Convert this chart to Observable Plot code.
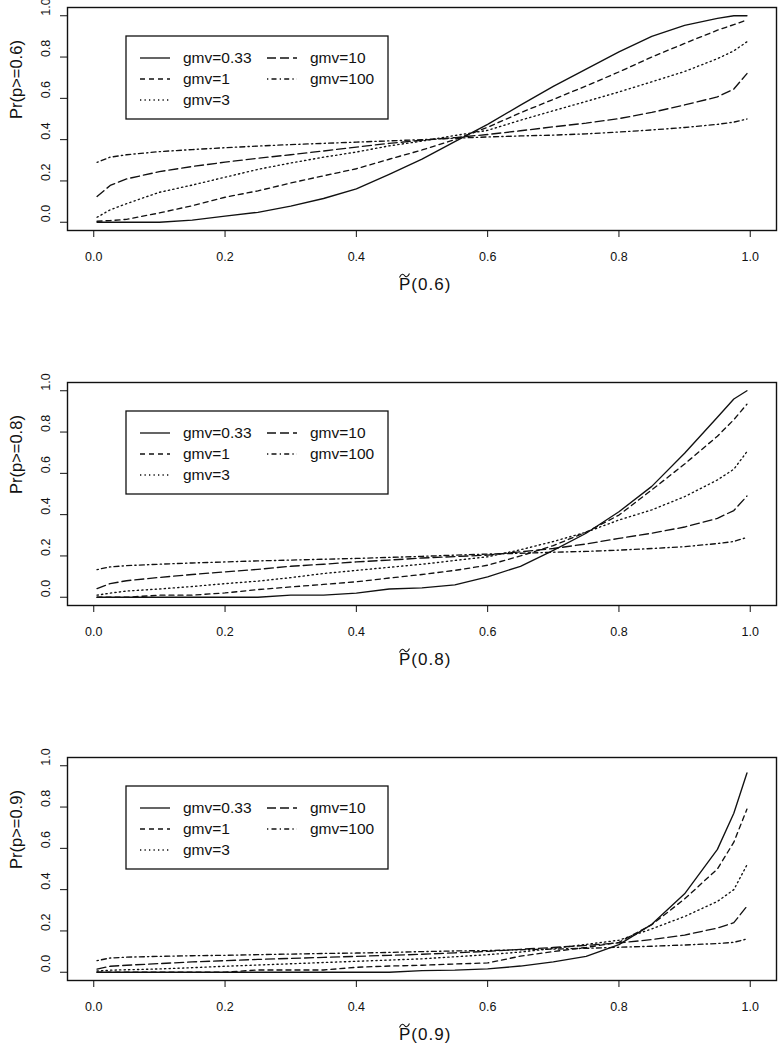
<!DOCTYPE html>
<html>
<head>
<meta charset="utf-8">
<script src="https://cdn.jsdelivr.net/npm/d3@7"></script>
<script src="https://cdn.jsdelivr.net/npm/@observablehq/plot@0.6"></script>
<style>
  body { margin: 0; background: #fff; }
  #chart svg { display: block; }
</style>
</head>
<body>
<div id="chart"></div>
<script>
// ---- data ----
const xGrid = [0.005, 0.025, 0.05, 0.1, 0.15, 0.2, 0.25, 0.3, 0.35, 0.4, 0.45, 0.5, 0.55, 0.6, 0.65, 0.7, 0.75, 0.8, 0.85, 0.9, 0.95, 0.975, 0.995];
const seriesNames = ["gmv=0.33", "gmv=1", "gmv=3", "gmv=10", "gmv=100"];
const thresholds = ["0.6", "0.8", "0.9"];
const xTicks = [0, 0.2, 0.4, 0.6, 0.8, 1.0];
const yTicks = [0, 0.2, 0.4, 0.6, 0.8, 1.0];
const tickLabels = ["0.0", "0.2", "0.4", "0.6", "0.8", "1.0"];

// threshold 0.6
const t06_gmv033 = [0, 0, 0, 0, 0.01, 0.03, 0.048, 0.078, 0.115, 0.162, 0.232, 0.306, 0.39, 0.474, 0.567, 0.658, 0.742, 0.825, 0.9, 0.953, 0.987, 1.0, 1.0];
const t06_gmv1   = [0.005, 0.008, 0.014, 0.045, 0.08, 0.121, 0.152, 0.19, 0.225, 0.259, 0.305, 0.35, 0.40, 0.46, 0.53, 0.595, 0.66, 0.728, 0.80, 0.866, 0.93, 0.957, 0.98];
const t06_gmv3   = [0.024, 0.06, 0.09, 0.145, 0.18, 0.218, 0.256, 0.287, 0.315, 0.34, 0.37, 0.393, 0.42, 0.445, 0.494, 0.54, 0.585, 0.631, 0.68, 0.73, 0.792, 0.83, 0.874];
const t06_gmv10  = [0.125, 0.178, 0.21, 0.245, 0.27, 0.291, 0.31, 0.327, 0.345, 0.364, 0.382, 0.397, 0.41, 0.425, 0.443, 0.462, 0.48, 0.502, 0.532, 0.568, 0.607, 0.645, 0.72];
const t06_gmv100 = [0.29, 0.315, 0.327, 0.342, 0.352, 0.361, 0.369, 0.376, 0.382, 0.388, 0.394, 0.40, 0.407, 0.413, 0.418, 0.422, 0.428, 0.437, 0.447, 0.459, 0.474, 0.485, 0.50];

// threshold 0.8
const t08_gmv033 = [0, 0, 0, 0, 0, 0, 0, 0.01, 0.01, 0.02, 0.04, 0.045, 0.06, 0.099, 0.15, 0.227, 0.31, 0.414, 0.537, 0.697, 0.872, 0.96, 1.0];
const t08_gmv1   = [0, 0, 0, 0.01, 0.01, 0.021, 0.037, 0.05, 0.062, 0.075, 0.093, 0.11, 0.13, 0.155, 0.2, 0.25, 0.315, 0.398, 0.52, 0.645, 0.78, 0.86, 0.935];
const t08_gmv3   = [0.01, 0.02, 0.03, 0.04, 0.052, 0.066, 0.078, 0.095, 0.115, 0.13, 0.145, 0.16, 0.178, 0.196, 0.23, 0.27, 0.315, 0.374, 0.423, 0.487, 0.568, 0.62, 0.705];
const t08_gmv10  = [0.042, 0.066, 0.08, 0.096, 0.11, 0.123, 0.135, 0.15, 0.16, 0.171, 0.18, 0.19, 0.197, 0.204, 0.22, 0.236, 0.258, 0.285, 0.31, 0.34, 0.382, 0.42, 0.49];
const t08_gmv100 = [0.134, 0.147, 0.153, 0.16, 0.166, 0.171, 0.176, 0.18, 0.184, 0.188, 0.193, 0.198, 0.204, 0.209, 0.213, 0.218, 0.222, 0.228, 0.236, 0.245, 0.26, 0.27, 0.29];

// threshold 0.9
const t09_gmv033 = [0, 0, 0, 0, 0, 0, 0, 0, 0, 0, 0, 0.008, 0.01, 0.016, 0.03, 0.05, 0.077, 0.134, 0.232, 0.38, 0.595, 0.77, 0.965];
const t09_gmv1   = [0, 0, 0, 0, 0, 0, 0.011, 0.011, 0.011, 0.024, 0.03, 0.034, 0.04, 0.045, 0.078, 0.10, 0.12, 0.145, 0.23, 0.355, 0.50, 0.63, 0.79];
const t09_gmv3   = [0.006, 0.01, 0.012, 0.016, 0.022, 0.029, 0.035, 0.041, 0.047, 0.053, 0.059, 0.065, 0.075, 0.085, 0.098, 0.115, 0.135, 0.155, 0.21, 0.27, 0.343, 0.40, 0.52];
const t09_gmv10  = [0.015, 0.029, 0.034, 0.042, 0.05, 0.056, 0.062, 0.067, 0.072, 0.077, 0.082, 0.087, 0.094, 0.101, 0.111, 0.12, 0.13, 0.142, 0.158, 0.18, 0.214, 0.24, 0.32];
const t09_gmv100 = [0.056, 0.069, 0.073, 0.077, 0.08, 0.082, 0.085, 0.088, 0.091, 0.093, 0.096, 0.10, 0.103, 0.105, 0.109, 0.112, 0.116, 0.121, 0.126, 0.132, 0.139, 0.145, 0.161];

const panelSeries = [
  [t06_gmv033, t06_gmv1, t06_gmv3, t06_gmv10, t06_gmv100],
  [t08_gmv033, t08_gmv1, t08_gmv3, t08_gmv10, t08_gmv100],
  [t09_gmv033, t09_gmv1, t09_gmv3, t09_gmv10, t09_gmv100]
];

// ---- styles ----
const dashStyles = [null, "5,4", "1.3,3.2", "9,4", "1.3,3.2,5,3.2"];
const ink = "#111";
const fontFamily = "'Liberation Sans', Arial, Helvetica, sans-serif";

function legendMark(index, scales, values, dims) {
  const g = d3.create("svg:g");
  const left = dims.marginLeft + 59, top = dims.marginTop + 29;
  g.append("rect")
    .attr("x", left).attr("y", top).attr("width", 262).attr("height", 83)
    .attr("fill", "white").attr("stroke", ink).attr("stroke-width", 1.3);
  seriesNames.forEach((name, i) => {
    const col = i < 3 ? 0 : 1, row = i < 3 ? i : i - 3;
    const lx = left + 14 + col * 127, ly = top + 22 + row * 21;
    const line = g.append("line")
      .attr("x1", lx).attr("x2", lx + 30).attr("y1", ly).attr("y2", ly)
      .attr("stroke", ink).attr("stroke-width", 1.3);
    if (dashStyles[i]) line.attr("stroke-dasharray", dashStyles[i]);
    g.append("text")
      .attr("x", lx + 43).attr("y", ly).attr("dy", "0.35em")
      .attr("text-anchor", "start")
      .attr("font-size", 15.5).attr("fill", ink)
      .text(name);
  });
  return g.node();
}

// x-axis title: P(thr) with a wide tilde drawn over the P
function xLabelMark(thr) {
  return (index, scales, values, dims) => {
    const g = d3.create("svg:g");
    const cx = dims.marginLeft + (dims.width - dims.marginLeft - dims.marginRight) / 2;
    const x0 = cx - 22.5;
    const base = dims.height - dims.marginBottom + 60;
    g.append("text")
      .attr("x", x0).attr("y", base)
      .attr("text-anchor", "start")
      .attr("font-size", 17).attr("letter-spacing", 1).attr("fill", ink)
      .text(`P(${thr})`);
    g.append("path")
      .attr("d", `M${x0 + 0.5},${base - 12.5} C${x0 + 2.5},${base - 17} ${x0 + 4.5},${base - 16} ${x0 + 5.5},${base - 14.5} S${x0 + 8.5},${base - 12} ${x0 + 10.5},${base - 16.5}`)
      .attr("fill", "none").attr("stroke", ink).attr("stroke-width", 1.1);
    return g.node();
  };
}

const container = document.getElementById("chart");

thresholds.forEach((thr, p) => {
  const isLast = p === thresholds.length - 1;
  const marks = [];
  panelSeries[p].forEach((vals, i) => {
    const rows = xGrid.map((x, j) => ({x, y: vals[j]}));
    marks.push(Plot.line(rows, {
      x: "x", y: "y", stroke: ink, strokeWidth: 1.35,
      strokeDasharray: dashStyles[i] || undefined
    }));
  });
  marks.push(legendMark);
  marks.push(Plot.axisX({ticks: xTicks, tickSize: 7, tickPadding: 15, tickFormat: (d) => d.toFixed(1), fontSize: 12.5, label: null, stroke: ink}));
  marks.push(Plot.axisY({ticks: yTicks, tickSize: 7, tickFormat: () => "", label: null, stroke: ink}));
  marks.push(Plot.text(yTicks, {y: (d) => d, text: (d, i) => tickLabels[i], frameAnchor: "left", dx: -22, rotate: -90, fontSize: 12.5, fill: ink}));
  marks.push(Plot.text([`Pr(p>=${thr})`], {text: (d) => d, frameAnchor: "left", dx: -51, rotate: -90, fontSize: 16.5, fill: ink, letterSpacing: 0.3}));
  marks.push(xLabelMark(thr));
  marks.push(Plot.frame({stroke: ink, strokeWidth: 1.4}));

  const chart = Plot.plot({
    width: 784,
    height: isLast ? 300 : 375,
    marginLeft: 67,
    marginRight: 8,
    marginTop: 7,
    marginBottom: isLast ? 70 : 145,
    style: {fontFamily, fontSize: "12.5px", background: "white", color: ink, overflow: "visible"},
    x: {domain: [-0.04, 1.04], label: null},
    y: {domain: [-0.04, 1.04], label: null},
    marks
  });
  container.appendChild(chart);
});
</script>
</body>
</html>
